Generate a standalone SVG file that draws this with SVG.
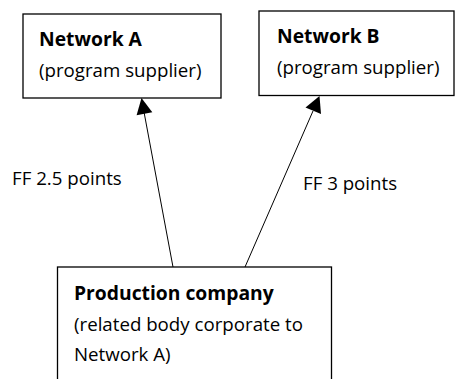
<svg xmlns="http://www.w3.org/2000/svg" width="456" height="379" viewBox="0 0 456 379">
<style>
.box{fill:#fff;stroke:#000;stroke-width:1.3}
text{font-family:"Open Sans","Noto Sans",sans-serif;font-size:18.7px;fill:#000}
.b{font-weight:bold;font-size:19.3px}
.c line{stroke:#000;stroke-width:1}
.c polygon{fill:#000}
</style>
<rect width="456" height="379" fill="#fff"/>
<g id="networkA">
<rect class="box" x="23" y="14" width="198" height="84"/>
<text class="b" x="39" y="46">Network A</text>
<text x="39" y="77">(program supplier)</text>
</g>
<g id="networkB">
<rect class="box" x="259" y="11" width="195" height="84.5"/>
<text class="b" x="277" y="43">Network B</text>
<text x="277" y="74">(program supplier)</text>
</g>
<g id="production">
<rect class="box" x="57.5" y="267" width="274" height="130"/>
<text class="b" x="74" y="300">Production company</text>
<text x="74" y="331">(related body corporate to</text>
<text x="74" y="361">Network A)</text>
</g>
<g class="c" id="connectors">
<line x1="173" y1="267" x2="144" y2="112"/>
<polygon points="141.5,98 152.3,112.2 136.6,115.2"/>
<line x1="245" y1="267" x2="313" y2="111"/>
<polygon points="319.5,96 321,114 305.5,107.5"/>
</g>
<g id="labels">
<text x="12" y="185">FF 2.5 points</text>
<text x="303" y="190">FF 3 points</text>
</g>
</svg>
